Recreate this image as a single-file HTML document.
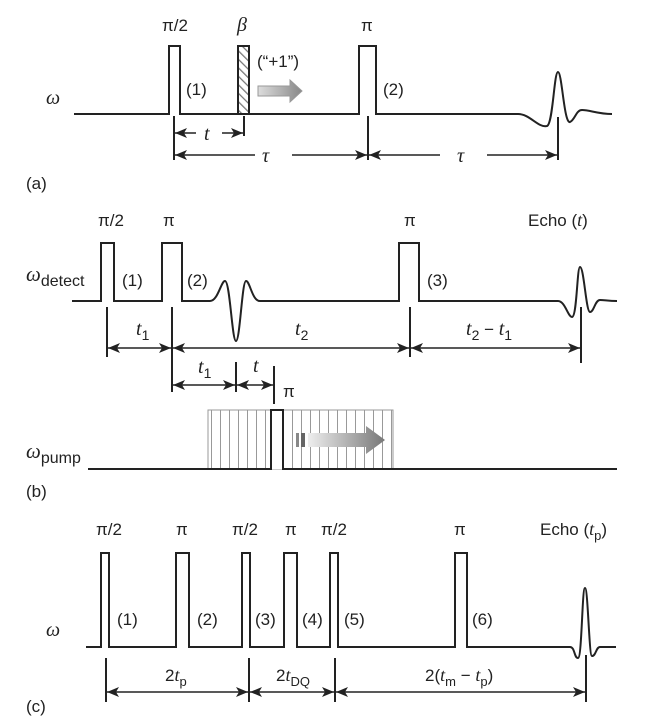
<!DOCTYPE html>
<html><head><meta charset="utf-8"><style>
html,body{margin:0;padding:0;background:#fff;}
svg{display:block;}
text{font-family:"Liberation Sans",sans-serif;font-size:17px;fill:#222;}
.i{font-family:"Liberation Serif",serif;font-style:italic;font-size:20px;}
.s{font-family:"Liberation Sans",sans-serif;font-style:normal;font-size:14px;}
</style></head><body>
<svg width="658" height="726" viewBox="0 0 658 726" xmlns="http://www.w3.org/2000/svg">
<defs>
<marker id="ah" viewBox="0 0 12 10" refX="12" refY="5" markerWidth="12" markerHeight="10" markerUnits="userSpaceOnUse" orient="auto-start-reverse">
<path d="M0,0 L12,5 L0,10 L3,5 Z" fill="#222"/></marker>
<pattern id="hatch" width="6" height="6" patternUnits="userSpaceOnUse" patternTransform="rotate(-45)">
<line x1="0" y1="0" x2="0" y2="6" stroke="#777" stroke-width="2.5"/></pattern>
<pattern id="vl" width="9" height="10" patternUnits="userSpaceOnUse">
<line x1="4.5" y1="0" x2="4.5" y2="10" stroke="#999" stroke-width="1"/></pattern>
<linearGradient id="g1" x1="0" x2="1"><stop offset="0" stop-color="#ddd"/><stop offset="1" stop-color="#888"/></linearGradient>
<linearGradient id="g2" x1="0" x2="1"><stop offset="0" stop-color="#eee"/><stop offset="1" stop-color="#777"/></linearGradient>
</defs>
<g fill="none" stroke="#222" stroke-width="2">
<path d="M74,114 H169 V46 H180 V114 H238 M249,114 H359 V46 H376 V114 H518 C530,114 538,128 547,126 C553,124 554,72 558,72 C562,72 564,124 570,122 C575,120 576,110 582,110 C590,110 598,114 612,114"/>
<rect x="238" y="46" width="11" height="68" fill="url(#hatch)"/>
<path d="M174,116 V160 M244,116 V136 M368,116 V160 M558,117 V160" />
</g>
<g stroke="#222" stroke-width="1.5" fill="none">
<line x1="175" y1="133" x2="196" y2="133" marker-start="url(#ah)"/>
<line x1="222" y1="133" x2="243" y2="133" marker-end="url(#ah)"/>
<line x1="175" y1="155" x2="255" y2="155" marker-start="url(#ah)"/>
<line x1="292" y1="155" x2="367" y2="155" marker-end="url(#ah)"/>
<line x1="369" y1="155" x2="440" y2="155" marker-start="url(#ah)"/>
<line x1="487" y1="155" x2="557" y2="155" marker-end="url(#ah)"/>
</g>
<path d="M258,86 H290 V80 L302,91 L290,102 V96 H258 Z" fill="url(#g1)" stroke="#999"/>
<text x="162" y="31">π/2</text>
<text x="237" y="31" class="i">β</text>
<text x="361" y="31">π</text>
<text x="257" y="67">(“+1”)</text>
<text x="186" y="95">(1)</text>
<text x="383" y="95">(2)</text>
<text x="46" y="104" class="i">ω</text>
<text x="204" y="140" class="i">t</text>
<text x="262" y="162" class="i">τ</text>
<text x="457" y="162" class="i">τ</text>
<text x="26" y="189">(a)</text>

<!-- (b) -->
<g fill="none" stroke="#222" stroke-width="2">
<path d="M72,301 H101 V243 H114 V301 H162 V243 H182 V301 H210 C218,301 221,281 225,281 C230,281 232,341 236,341 C240,341 242,281 246,281 C250,281 252,301 260,301 H399 V243 H419 V301 H558 C565,301 568,317 572,317 C577,317 577,267 580,267 C584,267 586,312 590,312 C594,312 595,300 600,300 C605,300 608,301 617,301"/>
<path d="M107,307 V357 M172,307 V392 M410,307 V357 M581,307 V363 M236,362 V392 M274,366 V404"/>
</g>
<g stroke="#222" stroke-width="1.5" fill="none">
<line x1="108" y1="348" x2="171" y2="348" marker-start="url(#ah)" marker-end="url(#ah)"/>
<line x1="173" y1="348" x2="409" y2="348" marker-start="url(#ah)" marker-end="url(#ah)"/>
<line x1="411" y1="348" x2="580" y2="348" marker-start="url(#ah)" marker-end="url(#ah)"/>
<line x1="173" y1="385" x2="235" y2="385" marker-start="url(#ah)" marker-end="url(#ah)"/>
<line x1="237" y1="385" x2="273" y2="385" marker-start="url(#ah)" marker-end="url(#ah)"/>
</g>
<rect x="208" y="410" width="185" height="59" fill="url(#vl)" stroke="#999" stroke-width="1"/>
<rect x="271" y="410" width="13" height="59" fill="#fff"/>
<path d="M88,469 H271 V410 H283 V469 H617" fill="none" stroke="#222" stroke-width="2"/>
<rect x="296" y="433" width="3" height="14" fill="#888"/>
<rect x="301" y="433" width="4" height="14" fill="#666"/>
<path d="M308,433 H366 V426 L385,440 L366,454 V447 H308 Z" fill="url(#g2)"/>
<text x="98" y="226">π/2</text>
<text x="163" y="226">π</text>
<text x="404" y="226">π</text>
<text x="528" y="226">Echo (<tspan class="i" style="font-size:18px">t</tspan>)</text>
<text x="122" y="286">(1)</text>
<text x="187" y="286">(2)</text>
<text x="427" y="286">(3)</text>
<text x="26" y="281" class="i" style="font-size:21px">ω<tspan class="s" style="font-size:16px" dy="5">detect</tspan></text>
<text x="136" y="335" class="i">t<tspan class="s" dy="5">1</tspan></text>
<text x="295" y="335" class="i">t<tspan class="s" dy="5">2</tspan></text>
<text x="466" y="335" class="i">t<tspan class="s" dy="5">2</tspan><tspan class="s" style="font-size:17px" dy="-5"> − </tspan>t<tspan class="s" dy="5">1</tspan></text>
<text x="198" y="373" class="i">t<tspan class="s" dy="5">1</tspan></text>
<text x="253" y="372" class="i">t</text>
<text x="283" y="397">π</text>
<text x="26" y="458" class="i" style="font-size:21px">ω<tspan class="s" style="font-size:16px" dy="5">pump</tspan></text>
<text x="26" y="497">(b)</text>

<!-- (c) -->
<g fill="none" stroke="#222" stroke-width="2">
<path d="M86,647 H101 V553 H109 V647 H176 V553 H189 V647 H242 V553 H250 V647 H284 V553 H297 V647 H330 V553 H338 V647 H455 V553 H467 V647 H570 C575,647 574,658 578,658 C582,658 582,588 585,588 C588,588 589,656 592,656 C596,656 596,647 600,647 H616"/>
<path d="M106,658 V702 M249,658 V702 M335,658 V702 M586,655 V702"/>
</g>
<g stroke="#222" stroke-width="1.5" fill="none">
<line x1="107" y1="692" x2="248" y2="692" marker-start="url(#ah)" marker-end="url(#ah)"/>
<line x1="250" y1="692" x2="334" y2="692" marker-start="url(#ah)" marker-end="url(#ah)"/>
<line x1="336" y1="692" x2="585" y2="692" marker-start="url(#ah)" marker-end="url(#ah)"/>
</g>
<text x="96" y="535">π/2</text>
<text x="176" y="535">π</text>
<text x="232" y="535">π/2</text>
<text x="285" y="535">π</text>
<text x="321" y="535">π/2</text>
<text x="454" y="535">π</text>
<text x="540" y="535">Echo (<tspan class="i" style="font-size:18px">t</tspan><tspan style="font-size:13px" dy="5">p</tspan><tspan dy="-5">)</tspan></text>
<text x="117" y="625">(1)</text>
<text x="197" y="625">(2)</text>
<text x="255" y="625">(3)</text>
<text x="302" y="625">(4)</text>
<text x="344" y="625">(5)</text>
<text x="472" y="625">(6)</text>
<text x="46" y="636" class="i">ω</text>
<text x="165" y="681">2<tspan class="i" style="font-size:18px">t</tspan><tspan style="font-size:13px" dy="5">p</tspan></text>
<text x="276" y="681">2<tspan class="i" style="font-size:18px">t</tspan><tspan style="font-size:13px" dy="5">DQ</tspan></text>
<text x="425" y="681">2(<tspan class="i" style="font-size:18px">t</tspan><tspan style="font-size:13px" dy="5">m</tspan><tspan dy="-5"> − </tspan><tspan class="i" style="font-size:18px">t</tspan><tspan style="font-size:13px" dy="5">p</tspan><tspan dy="-5">)</tspan></text>
<text x="26" y="712">(c)</text>
</svg>
</body></html>
